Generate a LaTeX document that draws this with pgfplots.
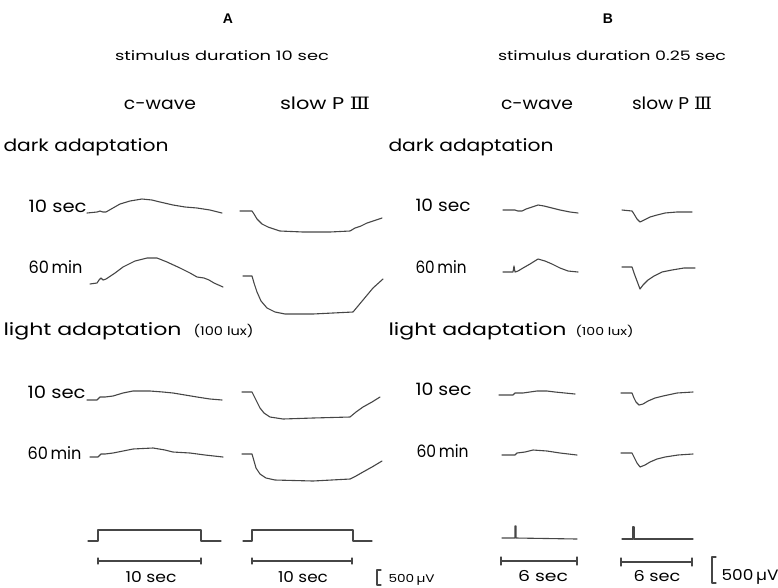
\documentclass[border=0pt]{standalone}
\usepackage{pgfplots}
\pgfplotsset{compat=1.18}
\usepackage{fontspec}
\setmainfont{Poppins}
\newfontfamily\lib{Liberation Sans}
\newfontfamily\djs{DejaVu Serif}
\definecolor{ink}{RGB}{55,55,55}
\definecolor{tr}{RGB}{70,70,70}
\newcommand\fit[2]{\resizebox{#1}{\height}{#2}}
\newcommand\fs[1]{\fontsize{#1}{#1}\selectfont}
\pgfplotsset{trace/.style={tr,line width=1.1pt,line join=round,line cap=round,mark=none}}
\begin{document}
\begin{tikzpicture}
\useasboundingbox (0,0) rectangle (778pt,587pt);
\clip (0,0) rectangle (778pt,587pt);
\begin{axis}[at={(0,0)},anchor=south west,scale only axis,width=778pt,height=587pt,
  xmin=0,xmax=778,ymin=0,ymax=587,y dir=reverse,hide axis,clip=false,
  every node/.style={inner sep=0pt,text=ink}]
% ---------- headings
\node[anchor=base] at (axis cs:228,23) {\lib\bfseries\fs{14}A};
\node[anchor=base] at (axis cs:608,23) {\lib\bfseries\fs{14}B};
\node[anchor=base] at (axis cs:222,60) {\fit{214pt}{\fs{13}stimulus duration 10 sec}};
\node[anchor=base] at (axis cs:612,60) {\fit{228pt}{\fs{13}stimulus duration 0.25 sec}};
\node[anchor=base] at (axis cs:160,109) {\fit{72pt}{\fs{17}c-wave}};
\node[anchor=base] at (axis cs:325,109) {\fit{90pt}{\fs{17}slow P {\djs Ⅲ}}};
\node[anchor=base] at (axis cs:537,109) {\fit{72pt}{\fs{17}c-wave}};
\node[anchor=base] at (axis cs:672,109) {\fit{80pt}{\fs{17}slow P {\djs Ⅲ}}};
\node[anchor=base west] at (axis cs:0,151) {\fit{165pt}{\fs{17}dark adaptation}};
\node[anchor=base west] at (axis cs:385,151) {\fit{165pt}{\fs{17}dark adaptation}};
\node[anchor=base west] at (axis cs:0,335) {\fit{178pt}{\fs{17}light adaptation}};
\node[anchor=base west] at (axis cs:190,335) {\fit{60pt}{\fs{12}(100 lux)}};
\node[anchor=base west] at (axis cs:385,335) {\fit{178pt}{\fs{17}light adaptation}};
\node[anchor=base west] at (axis cs:572,335) {\fit{58pt}{\fs{11}(100 lux)}};
% ---------- row labels
\node[anchor=base west] at (axis cs:25,212) {\fit{58pt}{\fs{17}10 sec}};
\node[anchor=base west] at (axis cs:25,273) {\fit{54pt}{\fs{17}60\,min}};
\node[anchor=base west] at (axis cs:24,398) {\fit{58pt}{\fs{17}10 sec}};
\node[anchor=base west] at (axis cs:24,459) {\fit{54pt}{\fs{17}60\,min}};
\node[anchor=base west] at (axis cs:412,211) {\fit{55pt}{\fs{17}10 sec}};
\node[anchor=base west] at (axis cs:412,273) {\fit{51pt}{\fs{17}60\,min}};
\node[anchor=base west] at (axis cs:412,395) {\fit{56pt}{\fs{17}10 sec}};
\node[anchor=base west] at (axis cs:413,457) {\fit{52pt}{\fs{17}60\,min}};
% ---------- bottom labels
\node[anchor=base] at (axis cs:151,582) {\fit{51pt}{\fs{15}10 sec}};
\node[anchor=base] at (axis cs:303,582) {\fit{50pt}{\fs{15}10 sec}};
\node[anchor=base] at (axis cs:543,581) {\fit{50pt}{\fs{15}6 sec}};
\node[anchor=base] at (axis cs:657,581) {\fit{47pt}{\fs{15}6 sec}};
\node[anchor=base west] at (axis cs:385,582) {\fit{46pt}{\fs{11}500\,µV}};
\node[anchor=base west] at (axis cs:718,580) {\fit{57pt}{\fs{15}500\,µV}};
% ---------- A: c-wave, dark
\addplot[trace] coordinates {(87,213)(97,212)(100,211)(103,212)(106,212)(113,208)(120,204)(130,201)(142,199)(152,200)(160,202)(173,205)(185,207)(197,208)(210,210)(222,213)};
\addplot[trace] coordinates {(90,284)(97,283)(99,280)(101,278)(103,280)(106,279)(115,273)(123,267)(135,261)(147,258)(157,258)(167,262)(180,268)(190,273)(197,277)(204,278)(209,280)(214,283)(223,287)};
% A: slow PIII, dark
\addplot[trace] coordinates {(240,211)(252,211)(254,214)(257,219)(262,224)(268,227)(280,231)(303,232)(330,232)(350,231)(355,228)(361,226)(367,223)(382,218)};
\addplot[trace] coordinates {(243,276)(252,276)(254,283)(257,292)(261,301)(267,308)(275,312)(285,314)(313,314)(333,313)(353,312)(358,306)(363,300)(373,288)(383,279)};
% A: c-wave, light
\addplot[trace] coordinates {(87,400)(97,400)(100,397)(105,397)(113,396)(123,393)(133,391)(150,391)(163,392)(173,393)(185,395)(197,397)(210,399)(222,400)};
\addplot[trace] coordinates {(90,457)(98,457)(101,454)(105,454)(113,453)(123,451)(133,449)(153,448)(165,450)(173,452)(190,453)(205,455)(223,457)};
% A: slow PIII, light
\addplot[trace] coordinates {(242,392)(252,392)(254,396)(257,402)(260,408)(264,413)(270,417)(283,419)(313,418)(350,417)(356,412)(363,407)(372,402)(380,397)};
\addplot[trace] coordinates {(242,454)(252,454)(254,461)(256,468)(260,474)(266,478)(275,480)(313,481)(350,479)(356,476)(363,472)(372,467)(382,461)};
% B: c-wave, dark
\addplot[trace] coordinates {(503,210)(515,210)(518,211)(522,211)(526,209)(532,207)(538,205)(544,206)(552,208)(560,210)(570,212)(578,213)};
\addplot[trace] coordinates {(503,272)(513,272)(514,266)(515,272)(518,271)(523,268)(530,264)(538,259)(545,261)(552,264)(560,268)(568,271)(578,272)};
% B: slow PIII, dark
\addplot[trace] coordinates {(622,210)(632,211)(634,214)(637,219)(640,222)(644,220)(650,217)(657,215)(665,213)(677,212)(692,212)};
\addplot[trace] coordinates {(622,267)(632,267)(634,273)(637,281)(640,289)(643,285)(648,280)(654,276)(662,272)(672,270)(684,268)(695,268)};
% B: c-wave, light
\addplot[trace] coordinates {(499,395)(513,395)(515,393)(523,393)(530,392)(537,391)(547,391)(555,392)(565,393)(575,394)};
\addplot[trace] coordinates {(502,455)(515,455)(517,453)(525,452)(533,450)(547,451)(560,453)(577,455)};
% B: slow PIII, light
\addplot[trace] coordinates {(621,393)(632,393)(634,398)(636,402)(639,405)(643,404)(648,401)(655,398)(663,396)(677,393)(693,392)};
\addplot[trace] coordinates {(621,453)(632,453)(634,457)(637,463)(640,467)(645,465)(650,462)(657,459)(665,457)(678,455)(693,454)};
% ---------- stimulus markers
\addplot[trace] coordinates {(88,541)(98,541)(98,530)(201,530)(201,541)(221,541)};
\addplot[trace] coordinates {(243,541)(252,541)(252,530)(353,530)(353,541)(372,541)};
\addplot[trace] coordinates {(502,538)(515,538)(515,526)(516,526)(516,538)(577,539)};
\addplot[trace] coordinates {(622,539)(633,539)(633,527)(634,527)(634,539)(693,539)};
% ---------- time bars
\addplot[trace] coordinates {(98,558)(98,564)(98,561)(201,561)(201,558)(201,564)};
\addplot[trace] coordinates {(252,558)(252,564)(252,561)(352,561)(352,558)(352,564)};
\addplot[trace] coordinates {(501,557)(501,565)(501,561)(577,561)(577,557)(577,565)};
\addplot[trace] coordinates {(621,558)(621,566)(621,562)(692,562)(692,558)(692,566)};
% ---------- voltage scale bars
\addplot[trace] coordinates {(381,570)(377,570)(377,585)(381,585)};
\addplot[trace] coordinates {(716,557)(712,557)(712,583)(716,583)};
\end{axis}
\end{tikzpicture}
\end{document}
